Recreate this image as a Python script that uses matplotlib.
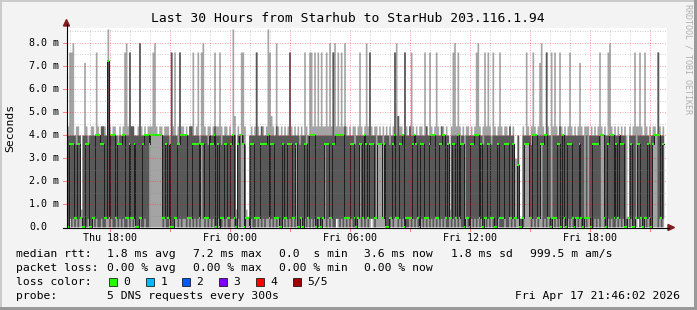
import numpy as np
import matplotlib
matplotlib.use('Agg')
import matplotlib.pyplot as plt
from matplotlib.patches import Polygon, Rectangle

W, H = 697, 310
MONO = 'DejaVu Sans Mono'

# ping level codes -> milliseconds
LEVEL_MS = {'z': 0.03, 'l': 0.4, 'm': 0.8, 'n': 2.7, 'k': 3.0, 'h': 3.6, 't': 4.0,
            'u': 4.4, 'x': 4.85, 'w': 7.15, 's': 7.2, '7': 7.6, '8': 8.0, '9': 8.6}

# 5 pings per 5 minute step, one char per step (358 steps)
PING1 = ("zlzzzzzzzz" "zzzzzzzzzz" "zzzzzzzzzz" "zzzzzzzzzz" "zzzzzzzzzz" "zzzzzzzzzz"
         "zzzzzzzzzz" "zzzzzzzzzz" "zzzzzzzzzz" "zzzzzzzzzz" "zzzzzzzzzz" "zzzzzzzzzz"
         "zzzzzzzzzz" "zzzzzzzzzz" "zzzzzzzzzz" "zzzzzzzzzz" "zlzzzzzzzz" "zzzzzzzzzz"
         "zzlzzzzzzz" "zzzzzzzzzz" "zzzzzzzzzz" "zzzzzzzzzz" "zzzzzzzzzz" "zzzzzzzzzz"
         "zzzzzzzzzz" "zzzzzzzzzz" "zzzzzzzzzz" "zzzzzzzzzz" "zzzzzzzzzz" "zzzzzzzzzz"
         "zzzzzzzzzz" "zzzzzzzzzz" "zzzzzzzzzz" "zzzzzzzzzz" "zzlzzzzzzz" "zzzzzzzz")
PING2 = ("zlzlzlzllz" "zzlzzlzlzz" "lzzllzlzzl" "zlzlzzlzlz" "lzzlzzlzzh" "tttttttzlz"
         "zlzzllzlzl" "lzlzlzlzlz" "hlzlzlzlzz" "lzzlzlzzll" "zzlzthzllz" "lzzlzlzlzl"
         "lzlzlzlzzl" "zlzlzlzhzz" "lzlzlzlzlz" "zlzlhzlzlz" "zllzlzlzlz" "lzzzlhzlzl"
         "zlllzlhhhl" "lzzzlzllzl" "zlzzzlzlzl" "zzlzlzlzlz" "lzlzlzlzzl" "zlzlzlzzzl"
         "zzlzlzlzlz" "lzlzlzzzlz" "zzlzzlzlzl" "lzzzhhhlzl" "zlzlhzlzlz" "zlzlzlzlzz"
         "lzlzzlzlzz" "lzllzzlzlz" "ttzzlzlzzl" "zlzlzzlzlz" "zllzlzlzlz" "zhttzlzl")
MEDIAN = ("zhhhllhhlz" "zhhzzllttt" "hhllsltttl" "hhhttllhll" "hzzllhttth" "tttttttllh"
          "lhzzllhhtt" "ttlllhhhhl" "hhlllthhtz" "hzllhhllht" "lzhtthzllz" "hhllllhhhh"
          "tlhhlllzzh" "llhhhllhzz" "lzhhlttttz" "llzlhhhllh" "htttttllll" "hhlzlhhlth"
          "lhhhllhhhl" "hzzllhtllh" "htzllllhth" "lzhhlllhtt" "tllhhttlhl" "lhhltlhhzl"
          "lzhhtttlhz" "llhhllzzhl" "llhhhllhll" "nzzlhhhllt" "ttllhhttll" "zlllhhztlz"
          "hhhlzllhlz" "llllzhhhht" "ttlzhtttlh" "lthhzzllhz" "zlhhlzllhl" "zhttttlh")
PING4 = ("ttttthttlt" "tthttttttt" "uuttsttttt" "htttttt7uu" "ttt8tttttt" "tttttttttt"
         "th7ttth7tt" "tttuutttth" "tttthtttuu" "tthttttttt" "tltttthllt" "ttt7ttuttt"
         "tttttutttt" "ttt7ttttth" "ttthtttttt" "ttttttttt7" "ttttttuttt" "tthttttttt"
         "t7tttltttl" "ttthtt7txt" "tt7ttutttt" "tttttutttt" "ttttuttttl" "ttttthttlt"
         "ttttttttth" "tttthttttt" "tttttuttll" "tlltttttht" "ttttttt7tt" "lttttutttt"
         "tttttttttt" "ltlttttttt" "tttttttttt" "tttttllttt" "tlttttttth" "tttt7ttt")
PING5 = ("u778tuutmt" "wuttuut7ut" "uuut9utuut" "tutu78u7uu" "ttu8ututuu" "u78utuutuu"
         "ut7u7tu7uu" "tutuu7tu7t" "78utuutu7t" "u7utuutut9" "xmut77umlt" "utu7utuutu"
         "97xut8utut" "utu7ututut" "ut7ut77u7u" "7u7uu7u8u7" "8u7u7u8utu" "tuutu7utu8"
         "u7utuututu" "tututu78xu" "ut7utu7utu" "tuut7ut7ut" "u7utuututm" "u78u7ututu"
         "ututu78utu" "7u7ut7utu7" "utuututukk" "tllut7utu7" "utuw8ut7ut" "7u7ut7utut"
         "u7ututuwut" "uuutututu7" "utut78utut" "utututlutu" "7uu7ut7utu" "tuut7utu")

START_HOUR = 15 + 51 / 60.0          # Thu 15:51, plot start
SPAN_HOURS = 30
X_TICKS = [18, 24, 30, 36, 42]
X_LABELS = ['Thu 18:00', 'Fri 00:00', 'Fri 06:00', 'Fri 12:00', 'Fri 18:00']
Y_TICKS = [0, 1, 2, 3, 4, 5, 6, 7, 8]
Y_LABELS = ['0.0', '1.0 m', '2.0 m', '3.0 m', '4.0 m', '5.0 m', '6.0 m', '7.0 m', '8.0 m']

TITLE = 'Last 30 Hours from Starhub to StarHub 203.116.1.94'
RTT_ROW = ['median rtt:', '1.8 ms avg', '7.2 ms max', '0.0  s min', '3.6 ms now', '1.8 ms sd', '999.5 m am/s']
LOSS_ROW = ['packet loss:', '0.00 % avg', '0.00 % max', '0.00 % min', '0.00 % now']
LOSS_NAMES = ['0', '1', '2', '3', '4', '5/5']
LOSS_COLORS = ['#26ff00', '#00b8ff', '#0059ff', '#7e00ff', '#ff0000', '#a10000']
PROBE = '5 DNS requests every 300s'
STAMP = 'Fri Apr 17 21:46:02 2026'

pings = np.array([[LEVEL_MS[c] for c in s] for s in (PING1, PING2, MEDIAN, PING4, PING5)])
pings = np.sort(pings, axis=0)
n = pings.shape[1]
edges = START_HOUR + np.arange(n + 1) / 12.0
PX = 0.72  # one pixel in points


def ext(a):
    return np.append(a, a[-1])


fig = plt.figure(figsize=(W / 100, H / 100), dpi=100)
fig.patch.set_facecolor('#f3f3f3')

ax = fig.add_axes([67 / W, (H - 227.5) / H, 600 / W, 199.5 / H])
ax.set_facecolor('white')
ax.set_xlim(START_HOUR, START_HOUR + SPAN_HOURS)
ax.set_ylim(0, 8.64)
for sp in ax.spines.values():
    sp.set_visible(False)
ax.set_xticks([])
ax.set_yticks([])

# smoke
ax.fill_between(edges, ext(pings[0]), ext(pings[4]), step='post', color='#a4a4a4',
                lw=0, antialiased=False, zorder=1)
ax.fill_between(edges, ext(pings[1]), ext(pings[3]), step='post', color='#585858',
                lw=0, antialiased=False, zorder=2)
# median
ax.step(edges, ext(pings[2]), where='post', color='#202020', lw=PX, zorder=3)
ax.hlines(pings[2], edges[:-1], edges[1:], colors=LOSS_COLORS[0], lw=2 * PX,
          antialiased=False, zorder=4)

# grid
for v in np.arange(0.5, 8.64, 0.5):
    major = abs(v - round(v)) < 1e-6
    ax.axhline(v, color='#ff0000' if major else '#808080', alpha=0.35,
               lw=PX, ls=(0, (1, 1.5)), zorder=5)
for hh in range(16, 46):
    major = hh % 3 == 0
    ax.axvline(hh, color='#ff0000' if major else '#808080', alpha=0.35,
               lw=PX, ls=(0, (1, 1.5)), zorder=5)

# overlay in pixel coordinates
ov = fig.add_axes([0, 0, 1, 1])
ov.set_xlim(0, W)
ov.set_ylim(H, 0)
ov.axis('off')
ov.patch.set_alpha(0)

# ticks sticking out of axes
for v in Y_TICKS[1:]:
    y = 227.5 - v * 199.5 / 8.64
    ov.plot([63, 66.5], [y, y], color='#ff8080', lw=PX)
for hh in range(18, 46, 3):
    x = 67 + (hh - START_HOUR) * 20
    ov.plot([x, x], [227.5, 231], color='#ff8080', lw=PX)

ov.plot([66.5, 66.5], [227.5, 24], color='black', lw=0.8)
ov.plot([63, 669], [227.5, 227.5], color='black', lw=0.8)
ov.add_patch(Polygon([(63.5, 26), (69.5, 26), (66.5, 19.5)], closed=True, color='#7f1f1f'))
ov.add_patch(Polygon([(668, 224.5), (668, 230.5), (674.5, 227.5)], closed=True, color='#7f1f1f'))

# tick labels
for v, lab in zip(Y_TICKS, Y_LABELS):
    y = 227.5 - v * 199.5 / 8.64
    ov.text(29, y, lab, fontsize=7.2, family=MONO, ha='left', va='center')
for hh, lab in zip(X_TICKS, X_LABELS):
    x = 67 + (hh - START_HOUR) * 20
    ov.text(x, 238, lab, fontsize=7.2, family=MONO, ha='center', va='center')

ov.text(347.5, 19, TITLE, fontsize=9.4, family=MONO, ha='center', va='center')
ov.text(10, 128, 'Seconds', fontsize=8.2, family=MONO, ha='center', va='center', rotation=90)
ov.text(688, 4, 'RRDTOOL / TOBI OETIKER', fontsize=6, family=MONO, ha='center', va='top',
        rotation=270, color='#b0b0b0')

# legend rows
rtt_x = [16, 107, 193, 279, 364, 451, 530]
for x, s in zip(rtt_x, RTT_ROW):
    ov.text(x, 254, s, fontsize=8.2, family=MONO, ha='left', va='center')
for x, s in zip(rtt_x, LOSS_ROW):
    ov.text(x, 268, s, fontsize=8.2, family=MONO, ha='left', va='center')
ov.text(16, 282, 'loss color:', fontsize=8.2, family=MONO, ha='left', va='center')
box_x = [109, 146, 182, 219, 256, 293]
for x, name, col in zip(box_x, LOSS_NAMES, LOSS_COLORS):
    ov.add_patch(Rectangle((x, 278), 7.5, 8, facecolor=col, edgecolor='black', lw=0.5))
    ov.text(x + 14.5, 282, name, fontsize=8.2, family=MONO, ha='left', va='center')
ov.text(16, 296, 'probe:', fontsize=8.2, family=MONO, ha='left', va='center')
ov.text(107, 296, PROBE, fontsize=8.2, family=MONO, ha='left', va='center')
ov.text(680, 296, STAMP, fontsize=8.2, family=MONO, ha='right', va='center')

# 3d border
ov.add_patch(Rectangle((0, 0), W, 2, color='#cbcbcb', lw=0))
ov.add_patch(Rectangle((0, 0), 2, H, color='#cbcbcb', lw=0))
ov.add_patch(Rectangle((W - 3, 0), 3, H, color='#999999', lw=0))
ov.add_patch(Rectangle((0, H - 3), W, 3, color='#999999', lw=0))

fig.savefig('out.png', dpi=100, facecolor=fig.get_facecolor())
